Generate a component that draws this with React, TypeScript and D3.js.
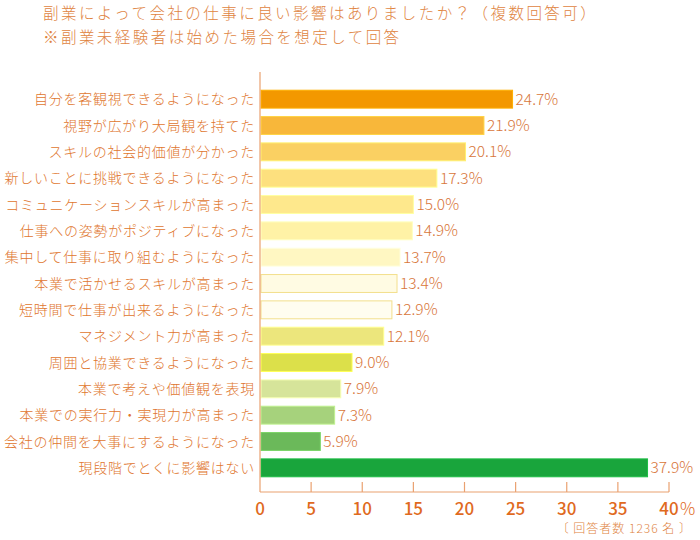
import React, { useRef, useEffect } from 'react';
import * as d3 from 'd3';

const categories = [
  '自分を客観視できるようになった',
  '視野が広がり大局観を持てた',
  'スキルの社会的価値が分かった',
  '新しいことに挑戦できるようになった',
  'コミュニケーションスキルが高まった',
  '仕事への姿勢がポジティブになった',
  '集中して仕事に取り組むようになった',
  '本業で活かせるスキルが高まった',
  '短時間で仕事が出来るようになった',
  'マネジメント力が高まった',
  '周囲と協業できるようになった',
  '本業で考えや価値観を表現',
  '本業での実行力・実現力が高まった',
  '会社の仲間を大事にするようになった',
  '現段階でとくに影響はない',
];
const values = [24.7, 21.9, 20.1, 17.3, 15.0, 14.9, 13.7, 13.4, 12.9, 12.1, 9.0, 7.9, 7.3, 5.9, 37.9];
const barColors = [
  '#f39800', '#f8b73a', '#fad062', '#fde07e', '#fee88c', '#fff2a6', '#fff7c2',
  '#fffbe3', '#fffdf0', '#ece67c', '#dce04a', '#d6e49a', '#a6d27c', '#6bb95a', '#19a53c',
];
const xTicks = [0, 5, 10, 15, 20, 25, 30, 35, 40];
const titleLines = [
  '副業によって会社の仕事に良い影響はありましたか？（複数回答可）',
  '※副業未経験者は始めた場合を想定して回答',
];
const note = '〔 回答者数 1236 名 〕';

const FONT = '"Noto Sans CJK JP", "Noto Sans", sans-serif';

function Chart() {
  const ref = useRef(null);

  useEffect(() => {
    const svg = d3.select(ref.current);
    svg.selectAll('*').remove();

    const left = 260;
    const right = 669;
    const top = 86;
    const bottom = 481;
    const axisY = 492;

    const x = d3.scaleLinear().domain([0, 40]).range([left, right]);
    const y = d3.scaleBand().domain(categories).range([top, bottom]).paddingInner(0.32).paddingOuter(0.16);

    // title
    svg.selectAll('text.title')
      .data(titleLines)
      .enter()
      .append('text')
      .attr('class', 'title')
      .attr('x', 43)
      .attr('y', (d, i) => 19 + i * 24)
      .attr('font-family', FONT)
      .attr('font-size', 15.5)
      .attr('font-weight', 300)
      .attr('fill', '#e0843f')
      .attr('letter-spacing', 2.45)
      .text((d) => d);

    // bars
    svg.selectAll('rect.bar')
      .data(values)
      .enter()
      .append('rect')
      .attr('class', 'bar')
      .attr('x', x(0) + 1)
      .attr('y', (d, i) => y(categories[i]))
      .attr('width', (d) => x(d) - x(0) - 1)
      .attr('height', y.bandwidth())
      .attr('fill', (d, i) => barColors[i])
      .attr('stroke', (d, i) => (i === 7 || i === 8 ? '#f3df8c' : d3.color(barColors[i]).brighter(0.4).formatHex()))
      .attr('stroke-width', 1);

    // value labels
    svg.selectAll('text.val')
      .data(values)
      .enter()
      .append('text')
      .attr('class', 'val')
      .attr('x', (d) => x(d) + 3)
      .attr('y', (d, i) => y(categories[i]) + y.bandwidth() / 2)
      .attr('dy', '0.36em')
      .attr('font-family', FONT)
      .attr('font-size', 15.5)
      .attr('font-weight', 300)
      .attr('fill', '#d8763a')
      .text((d) => d.toFixed(1) + '%');

    // category labels
    svg.selectAll('text.cat')
      .data(categories)
      .enter()
      .append('text')
      .attr('class', 'cat')
      .attr('x', left - 5)
      .attr('y', (d) => y(d) + y.bandwidth() / 2)
      .attr('dy', '0.36em')
      .attr('text-anchor', 'end')
      .attr('font-family', FONT)
      .attr('font-size', 14)
      .attr('font-weight', 300)
      .attr('letter-spacing', 0.75)
      .attr('fill', '#e0762e')
      .text((d) => d);

    // axes lines
    const axisColor = '#eaa170';
    svg.append('line')
      .attr('x1', left).attr('x2', left)
      .attr('y1', 72).attr('y2', axisY)
      .attr('stroke', axisColor).attr('stroke-width', 1.2);
    svg.append('line')
      .attr('x1', left).attr('x2', x(40))
      .attr('y1', axisY).attr('y2', axisY)
      .attr('stroke', axisColor).attr('stroke-width', 1.2);

    svg.selectAll('line.tick')
      .data(xTicks.slice(1))
      .enter()
      .append('line')
      .attr('class', 'tick')
      .attr('x1', (d) => x(d)).attr('x2', (d) => x(d))
      .attr('y1', axisY - 10).attr('y2', axisY)
      .attr('stroke', axisColor).attr('stroke-width', 1.2);

    svg.selectAll('text.tl')
      .data(xTicks)
      .enter()
      .append('text')
      .attr('class', 'tl')
      .attr('x', (d) => x(d))
      .attr('y', 515)
      .attr('text-anchor', 'middle')
      .attr('font-family', FONT)
      .attr('font-size', 17)
      .attr('font-weight', 500)
      .attr('fill', '#e06a1e')
      .text((d) => d);

    svg.append('text')
      .attr('x', x(40) + 11)
      .attr('y', 515)
      .attr('font-family', FONT)
      .attr('font-size', 17)
      .attr('font-weight', 300)
      .attr('fill', '#e06a1e')
      .text('%');

    svg.append('text')
      .attr('x', 692)
      .attr('y', 533)
      .attr('text-anchor', 'end')
      .attr('font-family', FONT)
      .attr('font-size', 12)
      .attr('font-weight', 300)
      .attr('letter-spacing', 1)
      .attr('fill', '#e0843f')
      .text(note);
  }, []);

  return <svg ref={ref} width={700} height={540} style={{ display: 'block' }}></svg>;
}

export default function App() {
  return (
    <div style={{ position: 'absolute', left: 0, top: 0, width: 700, height: 540, background: '#fff' }}>
      <Chart />
    </div>
  );
}
